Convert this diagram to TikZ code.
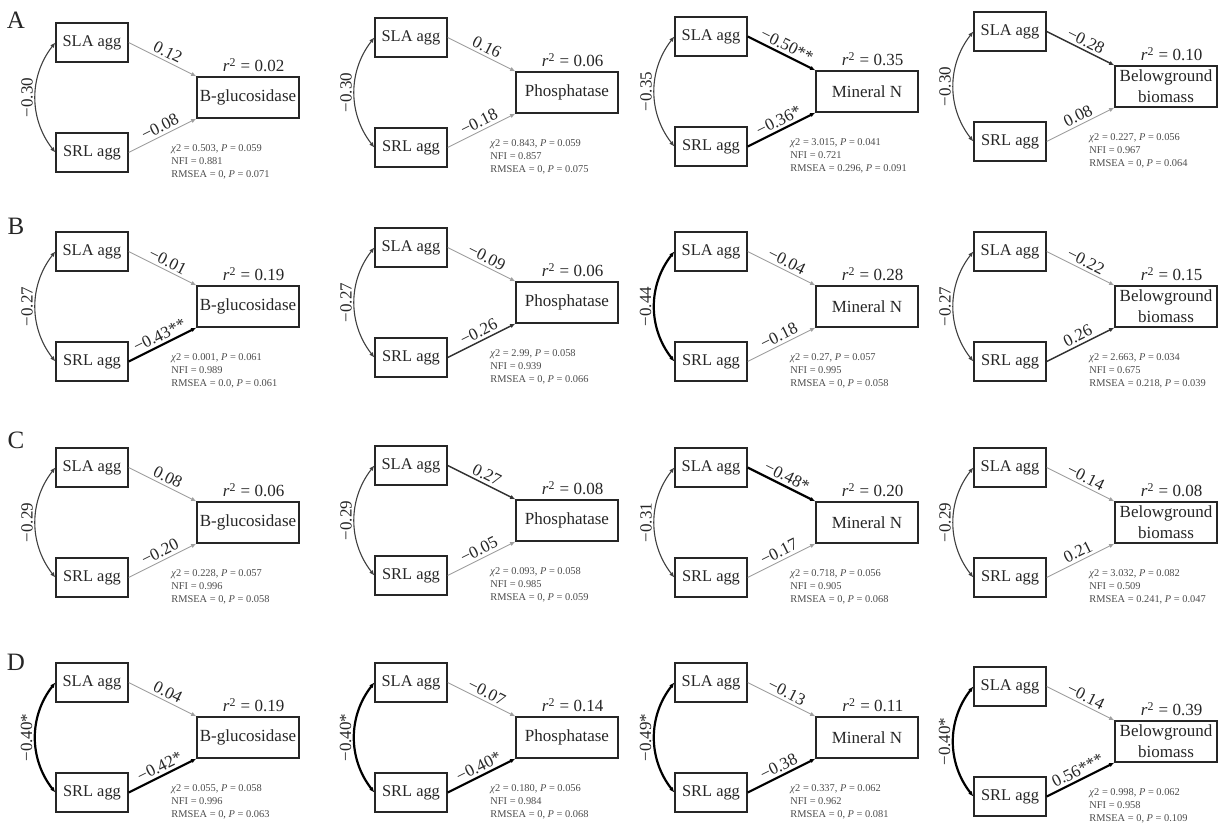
\documentclass[tikz,border=0pt]{standalone}
\usepackage{fontspec}
\setmainfont{Liberation Serif}
\usetikzlibrary{arrows.meta}
\definecolor{nsgray}{gray}{0.62}
\definecolor{statgray}{gray}{0.3}
\newcommand{\chisq}{\textit{χ}2}
\newcommand{\Pv}{\textit{P}}

\tikzset{
  >={Latex[length=2.6pt,width=2.2pt]},
  var/.style={draw=black!85, line width=0.7pt, minimum width=36pt, minimum height=19.5pt,
    inner sep=0pt, text=black!85, font=\fontsize{8.2}{9.6}\selectfont},
  resp/.style={draw=black!85, line width=0.7pt, minimum width=51pt, minimum height=20.5pt,
    inner sep=0pt, align=center, text=black!85, font=\fontsize{8.5}{10.5}\selectfont},
  coef/.style={pos=0.52, sloped, above, inner sep=1.3pt, text=black!85, font=\fontsize{8.5}{10}\selectfont},
  corr/.style={midway, rotate=90, anchor=south, inner sep=1pt, text=black!85, font=\fontsize{8.5}{10}\selectfont},
  rsq/.style={anchor=south east, inner sep=2pt, text=black!85, font=\fontsize{8.5}{10}\selectfont},
  fitstat/.style={anchor=north west, align=left, inner sep=0pt, text=statgray, font=\fontsize{5.2}{6.5}\selectfont},
  panel/.style={text=black!85, font=\fontsize{12.5}{15}\selectfont},
  ns/.style={draw=nsgray, line width=0.45pt},
  md/.style={draw=black!80, line width=0.75pt},
  sg/.style={draw=black, line width=1.1pt},
  cv/.style={draw=black!75, line width=0.55pt},
  cvb/.style={draw=black, line width=1.1pt}
}

% #1 x, #2 y, #3 name, #4 response, #5 r^2, #6 curve style, #7 correlation, #8 fit
\newcommand{\sempanel}[8]{%
  \begin{scope}[shift={(#1,#2)}]
    \node[var] (sla-#3) at (36,19.5) {SLA agg};
    \node[var] (srl-#3) at (36,129.5) {SRL agg};
    \node[resp] (tgt-#3) at (192,74.5) {#4};
    \node[rsq] (rsq-#3) at ([xshift=-5.5pt]tgt-#3.north east) {\textit{r}\textsuperscript{2} = #5};
    \node[fitstat] (fit-#3) at (115,121) {#8};
    \draw[#6,<->] (sla-#3.west) to[bend right=38] node[corr]{#7} (srl-#3.west);
  \end{scope}}

\begin{document}
\begin{tikzpicture}[x=0.5pt,y=-0.5pt]
	\useasboundingbox (0,0) rectangle (1224,824);

	\node[panel] (A) at (16,20){A};
	\sempanel{56}{23}{a1}{B-glucosidase}{0.02}{cv}{−0.30}{\chisq{} = 0.503, \Pv{} = 0.059\\NFI = 0.881\\RMSEA = 0, \Pv{} = 0.071}
	\path[->] (sla-a1.east) edge[ns] node[coef]{0.12} (tgt-a1.north west)
		(srl-a1.east) edge[ns] node[coef]{−0.08} (tgt-a1.south west);
	\sempanel{375}{18}{a2}{Phosphatase}{0.06}{cv}{−0.30}{\chisq{} = 0.843, \Pv{} = 0.059\\NFI = 0.857\\RMSEA = 0, \Pv{} = 0.075}
	\path[->] (sla-a2.east) edge[ns] node[coef]{0.16} (tgt-a2.north west)
		(srl-a2.east) edge[ns] node[coef]{−0.18} (tgt-a2.south west);
	\sempanel{675}{17}{a3}{Mineral N}{0.35}{cv}{−0.35}{\chisq{} = 3.015, \Pv{} = 0.041\\NFI = 0.721\\RMSEA = 0.296, \Pv{} = 0.091}
	\path[->] (sla-a3.east) edge[sg] node[coef]{−0.50**} (tgt-a3.north west)
		(srl-a3.east) edge[sg] node[coef]{−0.36*} (tgt-a3.south west);
	\sempanel{974}{12}{a4}{Belowground\\biomass}{0.10}{cv}{−0.30}{\chisq{} = 0.227, \Pv{} = 0.056\\NFI = 0.967\\RMSEA = 0, \Pv{} = 0.064}
	\path[->] (sla-a4.east) edge[md] node[coef]{−0.28} (tgt-a4.north west)
		(srl-a4.east) edge[ns] node[coef]{0.08} (tgt-a4.south west);

	\node[panel] (B) at (16,226){B};
	\sempanel{56}{232}{b1}{B-glucosidase}{0.19}{cv}{−0.27}{\chisq{} = 0.001, \Pv{} = 0.061\\NFI = 0.989\\RMSEA = 0.0, \Pv{} = 0.061}
	\path[->] (sla-b1.east) edge[ns] node[coef]{−0.01} (tgt-b1.north west)
		(srl-b1.east) edge[sg] node[coef]{−0.43**} (tgt-b1.south west);
	\sempanel{375}{228}{b2}{Phosphatase}{0.06}{cv}{−0.27}{\chisq{} = 2.99, \Pv{} = 0.058\\NFI = 0.939\\RMSEA = 0, \Pv{} = 0.066}
	\path[->] (sla-b2.east) edge[ns] node[coef]{−0.09} (tgt-b2.north west)
		(srl-b2.east) edge[md] node[coef]{−0.26} (tgt-b2.south west);
	\sempanel{675}{232}{b3}{Mineral N}{0.28}{cvb}{−0.44}{\chisq{} = 0.27, \Pv{} = 0.057\\NFI = 0.995\\RMSEA = 0, \Pv{} = 0.058}
	\path[->] (sla-b3.east) edge[ns] node[coef]{−0.04} (tgt-b3.north west)
		(srl-b3.east) edge[ns] node[coef]{−0.18} (tgt-b3.south west);
	\sempanel{974}{232}{b4}{Belowground\\biomass}{0.15}{cv}{−0.27}{\chisq{} = 2.663, \Pv{} = 0.034\\NFI = 0.675\\RMSEA = 0.218, \Pv{} = 0.039}
	\path[->] (sla-b4.east) edge[ns] node[coef]{−0.22} (tgt-b4.north west)
		(srl-b4.east) edge[md] node[coef]{0.26} (tgt-b4.south west);

	\node[panel] (C) at (16,440){C};
	\sempanel{56}{448}{c1}{B-glucosidase}{0.06}{cv}{−0.29}{\chisq{} = 0.228, \Pv{} = 0.057\\NFI = 0.996\\RMSEA = 0, \Pv{} = 0.058}
	\path[->] (sla-c1.east) edge[ns] node[coef]{0.08} (tgt-c1.north west)
		(srl-c1.east) edge[ns] node[coef]{−0.20} (tgt-c1.south west);
	\sempanel{375}{446}{c2}{Phosphatase}{0.08}{cv}{−0.29}{\chisq{} = 0.093, \Pv{} = 0.058\\NFI = 0.985\\RMSEA = 0, \Pv{} = 0.059}
	\path[->] (sla-c2.east) edge[md] node[coef]{0.27} (tgt-c2.north west)
		(srl-c2.east) edge[ns] node[coef]{−0.05} (tgt-c2.south west);
	\sempanel{675}{448}{c3}{Mineral N}{0.20}{cv}{−0.31}{\chisq{} = 0.718, \Pv{} = 0.056\\NFI = 0.905\\RMSEA = 0, \Pv{} = 0.068}
	\path[->] (sla-c3.east) edge[sg] node[coef]{−0.48*} (tgt-c3.north west)
		(srl-c3.east) edge[ns] node[coef]{−0.17} (tgt-c3.south west);
	\sempanel{974}{448}{c4}{Belowground\\biomass}{0.08}{cv}{−0.29}{\chisq{} = 3.032, \Pv{} = 0.082\\NFI = 0.509\\RMSEA = 0.241, \Pv{} = 0.047}
	\path[->] (sla-c4.east) edge[ns] node[coef]{−0.14} (tgt-c4.north west)
		(srl-c4.east) edge[ns] node[coef]{0.21} (tgt-c4.south west);

	\node[panel] (D) at (16,662){D};
	\sempanel{56}{663}{d1}{B-glucosidase}{0.19}{cvb}{−0.40*}{\chisq{} = 0.055, \Pv{} = 0.058\\NFI = 0.996\\RMSEA = 0, \Pv{} = 0.063}
	\path[->] (sla-d1.east) edge[ns] node[coef]{0.04} (tgt-d1.north west)
		(srl-d1.east) edge[sg] node[coef]{−0.42*} (tgt-d1.south west);
	\sempanel{375}{663}{d2}{Phosphatase}{0.14}{cvb}{−0.40*}{\chisq{} = 0.180, \Pv{} = 0.056\\NFI = 0.984\\RMSEA = 0, \Pv{} = 0.068}
	\path[->] (sla-d2.east) edge[ns] node[coef]{−0.07} (tgt-d2.north west)
		(srl-d2.east) edge[sg] node[coef]{−0.40*} (tgt-d2.south west);
	\sempanel{675}{663}{d3}{Mineral N}{0.11}{cvb}{−0.49*}{\chisq{} = 0.337, \Pv{} = 0.062\\NFI = 0.962\\RMSEA = 0, \Pv{} = 0.081}
	\path[->] (sla-d3.east) edge[ns] node[coef]{−0.13} (tgt-d3.north west)
		(srl-d3.east) edge[sg] node[coef]{−0.38} (tgt-d3.south west);
	\sempanel{974}{667}{d4}{Belowground\\biomass}{0.39}{cvb}{−0.40*}{\chisq{} = 0.998, \Pv{} = 0.062\\NFI = 0.958\\RMSEA = 0, \Pv{} = 0.109}
	\path[->] (sla-d4.east) edge[ns] node[coef]{−0.14} (tgt-d4.north west)
		(srl-d4.east) edge[sg] node[coef]{0.56***} (tgt-d4.south west);
\end{tikzpicture}
\end{document}
